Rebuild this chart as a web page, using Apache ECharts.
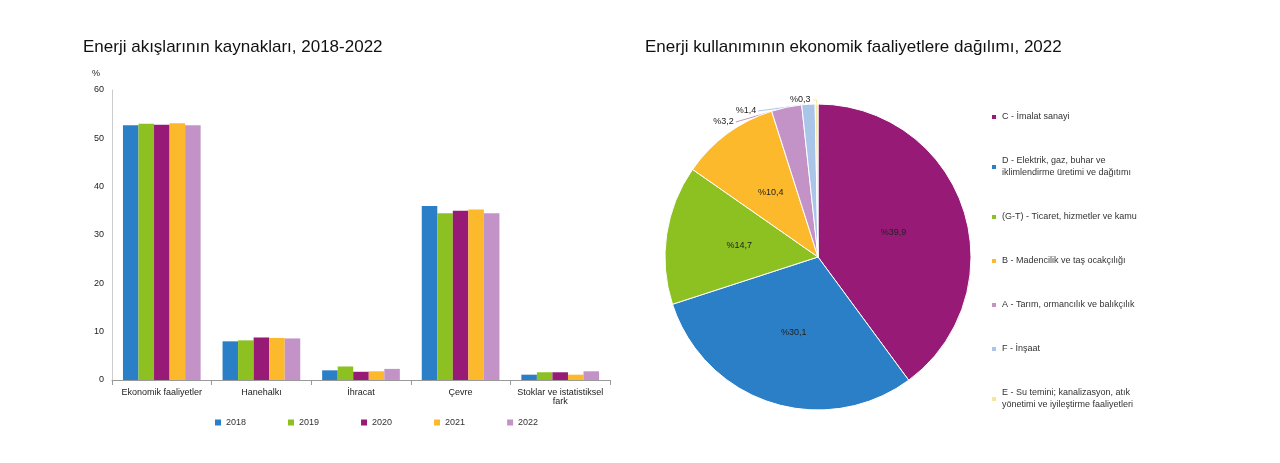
<!DOCTYPE html>
<html><head><meta charset="utf-8">
<script src="https://cdn.jsdelivr.net/npm/echarts@6/dist/echarts.min.js"></script>
<style>html,body{margin:0;background:#fff}#c{width:1280px;height:463px}</style>
</head><body><div id="c"></div>
<script>
const categories = ['Ekonomik faaliyetler','Hanehalkı','İhracat','Çevre','Stoklar ve istatistiksel\nfark'];
const years = ['2018','2019','2020','2021','2022'];
const v2018 = [52.7, 8.0, 2.0, 36.0, 1.1];
const v2019 = [53.0, 8.2, 2.8, 34.5, 1.6];
const v2020 = [52.8, 8.8, 1.7, 35.0, 1.6];
const v2021 = [53.1, 8.7, 1.8, 35.3, 1.1];
const v2022 = [52.7, 8.6, 2.3, 34.5, 1.8];
const barColors = ['#2a7fc6','#8cc121','#971a77','#fdb92c','#c393c8'];
const pieNames = ['C - İmalat sanayi','D - Elektrik, gaz, buhar ve\niklimlendirme üretimi ve dağıtımı','(G-T) - Ticaret, hizmetler ve kamu','B - Madencilik ve taş ocakçılığı','A - Tarım, ormancılık ve balıkçılık','F - İnşaat','E - Su temini; kanalizasyon, atık\nyönetimi ve iyileştirme faaliyetleri'];
const pieValues = [39.9, 30.1, 14.7, 10.4, 3.2, 1.4, 0.3];
const pieColors = ['#971a77','#2a7fc6','#8cc121','#fdb92c','#c393c8','#a9c6e8','#f5e79e'];
const vals=[v2018,v2019,v2020,v2021,v2022];
const ch=echarts.init(document.getElementById('c'));
ch.setOption({
 textStyle:{fontFamily:'Liberation Sans'},
 title:[{text:'Enerji akışlarının kaynakları, 2018-2022',left:78,top:34,textStyle:{fontSize:17,fontWeight:500,color:'#111'}},
        {text:'Enerji kullanımının ekonomik faaliyetlere dağılımı, 2022',left:640,top:34,textStyle:{fontSize:17,fontWeight:500,color:'#111'}}],
 legend:[{data:years,left:210,top:413,itemWidth:6,itemHeight:6,itemGap:42,icon:'rect',textStyle:{fontSize:9,color:'#333'}},
   {data:pieNames,orient:'vertical',left:985,top:106,itemWidth:6,itemHeight:6,itemGap:32,icon:'rect',textStyle:{fontSize:9,color:'#333',lineHeight:12}}],
 grid:{left:112,right:670,top:90,bottom:83},
 xAxis:{type:'category',data:categories,axisLine:{lineStyle:{color:'#999'}},axisTick:{show:true,interval:0,lineStyle:{color:'#999'}},axisLabel:{fontSize:9,color:'#222',interval:0}},
 yAxis:{type:'value',min:0,max:60,interval:10,name:'%',nameLocation:'end',nameGap:12,nameTextStyle:{fontSize:9,color:'#222',align:'right',padding:[0,12,0,0]},axisLine:{show:true,lineStyle:{color:'#ccc'}},splitLine:{show:false},axisLabel:{fontSize:9,color:'#222'}},
 series:[...years.map((y,i)=>({name:y,type:'bar',data:vals[i],barGap:'0%',barCategoryGap:'22%',itemStyle:{color:barColors[i]}})),
  {type:'pie',center:[818,257],radius:153,startAngle:90,clockwise:true,
   data:pieNames.map((n,i)=>({name:n,value:pieValues[i],itemStyle:{color:pieColors[i]},
     label:i>=4?{position:'outside',distanceToLabelLine:2}:{},labelLine:i>=4?{show:true,length:4,length2:4}:{show:false}})),
   itemStyle:{borderColor:'#fff',borderWidth:1},
   label:{position:'inside',formatter:p=>'%'+p.value.toFixed(1).replace('.',','),fontSize:9,color:'#222'}}
 ]
});
</script></body></html>
